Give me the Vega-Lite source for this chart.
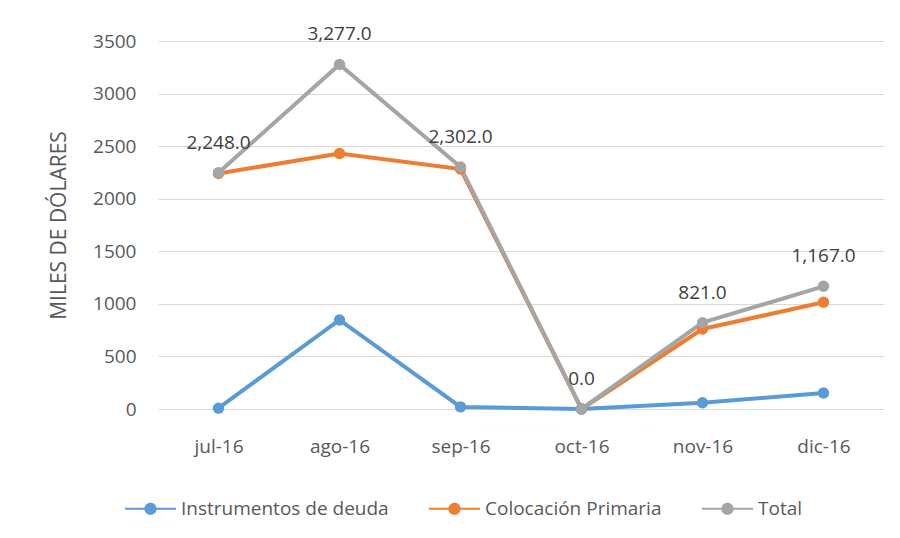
{
  "$schema": "https://vega.github.io/schema/vega-lite/v6.json",
  "width": 726,
  "height": 368,
  "autosize": {"type": "none"},
  "padding": {"left": 158, "top": 41, "right": 16, "bottom": 129},
  "background": "white",
  "config": {
    "view": {"stroke": null},
    "font": "Open Sans"
  },
  "data": {
    "values": [
      {"mes": "jul-16", "serie": "Instrumentos de deuda", "valor": 8},
      {"mes": "ago-16", "serie": "Instrumentos de deuda", "valor": 847},
      {"mes": "sep-16", "serie": "Instrumentos de deuda", "valor": 20},
      {"mes": "oct-16", "serie": "Instrumentos de deuda", "valor": 0},
      {"mes": "nov-16", "serie": "Instrumentos de deuda", "valor": 60},
      {"mes": "dic-16", "serie": "Instrumentos de deuda", "valor": 152},
      {"mes": "jul-16", "serie": "Colocación Primaria", "valor": 2240},
      {"mes": "ago-16", "serie": "Colocación Primaria", "valor": 2430},
      {"mes": "sep-16", "serie": "Colocación Primaria", "valor": 2282},
      {"mes": "oct-16", "serie": "Colocación Primaria", "valor": 0},
      {"mes": "nov-16", "serie": "Colocación Primaria", "valor": 761},
      {"mes": "dic-16", "serie": "Colocación Primaria", "valor": 1015},
      {"mes": "jul-16", "serie": "Total", "valor": 2248},
      {"mes": "ago-16", "serie": "Total", "valor": 3277},
      {"mes": "sep-16", "serie": "Total", "valor": 2302},
      {"mes": "oct-16", "serie": "Total", "valor": 0},
      {"mes": "nov-16", "serie": "Total", "valor": 821},
      {"mes": "dic-16", "serie": "Total", "valor": 1167}
    ]
  },
  "encoding": {
    "x": {
      "field": "mes", "type": "ordinal",
      "sort": ["jul-16", "ago-16", "sep-16", "oct-16", "nov-16", "dic-16"],
      "scale": {"type": "point", "padding": 0.5},
      "axis": {
        "title": null, "domain": false, "ticks": false, "labelAngle": 0,
        "labelFontSize": 19, "labelColor": "#595959", "labelPadding": 28, "grid": false
      }
    },
    "y": {
      "field": "valor", "type": "quantitative",
      "scale": {"domain": [0, 3500], "nice": false},
      "axis": {
        "title": "MILES DE DÓLARES", "titleFontSize": 21, "titleFontWeight": "normal",
        "titleColor": "#595959", "titlePadding": 23,
        "values": [0, 500, 1000, 1500, 2000, 2500, 3000, 3500],
        "format": "d", "domain": false, "ticks": false,
        "labelFontSize": 19, "labelColor": "#595959", "labelPadding": 22,
        "gridColor": "#D9D9D9", "gridWidth": 1
      }
    }
  },
  "layer": [
    {
      "mark": {"type": "line", "strokeWidth": 4, "point": {"size": 130, "filled": true, "opacity": 1}},
      "encoding": {
        "color": {
          "field": "serie", "type": "nominal",
          "sort": ["Instrumentos de deuda", "Colocación Primaria", "Total"],
          "scale": {
            "domain": ["Instrumentos de deuda", "Colocación Primaria", "Total"],
            "range": ["#5B9BD5", "#ED7D31", "#A5A5A5"]
          },
          "legend": {
            "title": null, "orient": "none", "direction": "horizontal",
            "legendX": -18, "legendY": 457,
            "symbolType": "M-2.5,-0.1H-0.55V0.1H-2.5Z M0.55,-0.1H2.5V0.1H0.55Z M0.6,0A0.6,0.6,0,1,1,-0.6,0A0.6,0.6,0,1,1,0.6,0Z",
            "symbolSize": 416, "symbolStrokeWidth": 0, "symbolOpacity": 1,
            "labelFontSize": 19, "labelColor": "#595959", "labelOffset": 20,
            "labelLimit": 0, "columnPadding": 40
          }
        },
        "order": {"field": "serie"}
      }
    },
    {
      "transform": [{"filter": "datum.serie === 'Total'"}],
      "mark": {"type": "text", "dy": -30, "fontSize": 19, "color": "#404040", "baseline": "middle"},
      "encoding": {
        "text": {"field": "valor", "type": "quantitative", "format": ",.1f"}
      }
    }
  ]
}
